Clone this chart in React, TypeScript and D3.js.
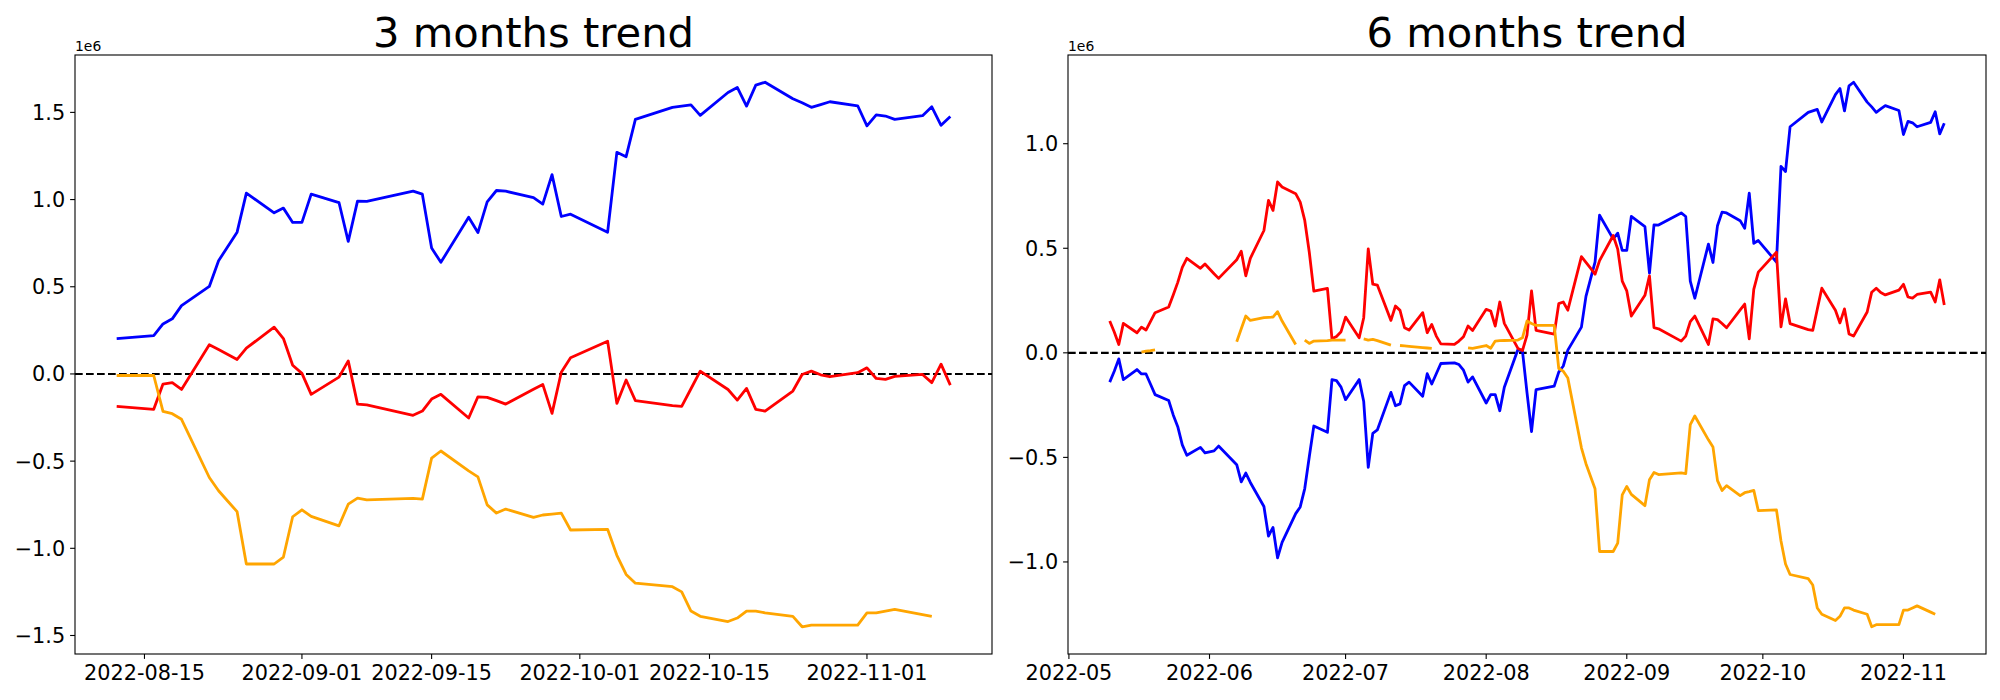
import React from 'react';
import * as d3 from 'd3';

// Korean market trading days, 2022-05-10 .. 2022-11-10
const tradingDays = [
  '2022-05-10', '2022-05-11', '2022-05-12', '2022-05-13', '2022-05-16', '2022-05-17', '2022-05-18', '2022-05-19',
  '2022-05-20', '2022-05-23', '2022-05-24', '2022-05-25', '2022-05-26', '2022-05-27', '2022-05-30', '2022-05-31',
  '2022-06-02', '2022-06-03', '2022-06-07', '2022-06-08', '2022-06-09', '2022-06-10', '2022-06-13', '2022-06-14',
  '2022-06-15', '2022-06-16', '2022-06-17', '2022-06-20', '2022-06-21', '2022-06-22', '2022-06-23', '2022-06-24',
  '2022-06-27', '2022-06-28', '2022-06-29', '2022-06-30',
  '2022-07-01', '2022-07-04', '2022-07-05', '2022-07-06', '2022-07-07', '2022-07-08', '2022-07-11', '2022-07-12',
  '2022-07-13', '2022-07-14', '2022-07-15', '2022-07-18', '2022-07-19', '2022-07-20', '2022-07-21', '2022-07-22',
  '2022-07-25', '2022-07-26', '2022-07-27', '2022-07-28', '2022-07-29',
  '2022-08-01', '2022-08-02', '2022-08-03', '2022-08-04', '2022-08-05', '2022-08-08', '2022-08-09', '2022-08-10',
  '2022-08-11', '2022-08-12', '2022-08-16', '2022-08-17', '2022-08-18', '2022-08-19', '2022-08-22', '2022-08-23',
  '2022-08-24', '2022-08-25', '2022-08-26', '2022-08-29', '2022-08-30', '2022-08-31',
  '2022-09-01', '2022-09-02', '2022-09-05', '2022-09-06', '2022-09-07', '2022-09-08', '2022-09-13', '2022-09-14',
  '2022-09-15', '2022-09-16', '2022-09-19', '2022-09-20', '2022-09-21', '2022-09-22', '2022-09-23', '2022-09-26',
  '2022-09-27', '2022-09-28', '2022-09-29', '2022-09-30',
  '2022-10-04', '2022-10-05', '2022-10-06', '2022-10-07', '2022-10-11', '2022-10-12', '2022-10-13', '2022-10-14',
  '2022-10-17', '2022-10-18', '2022-10-19', '2022-10-20', '2022-10-21', '2022-10-24', '2022-10-25', '2022-10-26',
  '2022-10-27', '2022-10-28', '2022-10-31',
  '2022-11-01', '2022-11-02', '2022-11-03', '2022-11-04', '2022-11-07', '2022-11-08', '2022-11-09', '2022-11-10',
];
const days3m = tradingDays.slice(tradingDays.indexOf('2022-08-12'));

// 3 months (values in 1e6)
const blue3m = [
  0.203, 0.220, 0.287, 0.316, 0.392, 0.502, 0.649, 0.731, 0.813, 1.037, 0.924, 0.951, 0.869,
  0.869, 1.031, 0.983, 0.760, 0.991, 0.990, 1.048, 1.031, 0.722, 0.640, 0.899, 0.811, 0.987, 1.052, 1.048, 1.011,
  0.974, 1.143, 0.903, 0.916,
  0.813, 1.271, 1.246, 1.460, 1.529, 1.536, 1.543, 1.483, 1.614, 1.643, 1.536, 1.656, 1.673, 1.578, 1.555, 1.529,
  1.545, 1.561, 1.538,
  1.423, 1.486, 1.479, 1.460, 1.481, 1.532, 1.426, 1.477,
];
const red3m = [
  -0.186, -0.203, -0.058, -0.050, -0.089, 0.167, 0.140, 0.112, 0.083, 0.148, 0.268, 0.203, 0.050,
  0.003, -0.117, -0.018, 0.075, -0.173, -0.178, -0.237, -0.213, -0.144, -0.117, -0.253, -0.131, -0.134, -0.153,
  -0.173, -0.088, -0.060, -0.226, 0.010, 0.093,
  0.188, -0.169, -0.035, -0.153, -0.182, -0.186, -0.085, 0.016, -0.089, -0.150, -0.083, -0.203, -0.213, -0.098,
  -0.003, 0.016, -0.005, -0.016, 0.007,
  0.035, -0.026, -0.031, -0.014, -0.003, -0.050, 0.056, -0.064,
];
const orange3m = [
  -0.009, -0.009, -0.215, -0.228, -0.260, -0.594, -0.670, -0.730, -0.790, -1.090, -1.090, -1.050, -0.819,
  -0.779, -0.817, -0.871, -0.747, -0.712, -0.722, -0.714, -0.718, -0.483, -0.442, -0.556, -0.590, -0.751, -0.798,
  -0.775, -0.823, -0.809, -0.804, -0.798, -0.895,
  -0.891, -1.040, -1.150, -1.200, -1.220, -1.250, -1.360, -1.390, -1.420, -1.400, -1.360, -1.360, -1.370, -1.390,
  -1.450, -1.440, -1.440, -1.440, -1.440,
  -1.370, -1.370, -1.360, -1.350, -1.380, -1.390, null, null,
];

// 6 months (values in 1e6)
const blue6m = [
  -0.140, -0.088, -0.029, -0.128, -0.080, -0.101, -0.101, -0.150, -0.200, -0.228, -0.297, -0.353, -0.440, -0.490,
  -0.452, -0.478,
  -0.469, -0.446, -0.535, -0.617, -0.575, -0.620, -0.735, -0.876, -0.835, -0.980, -0.906, -0.769, -0.737, -0.649,
  -0.497, -0.350, -0.380, -0.128, -0.133, -0.164,
  -0.224, -0.128, -0.233, -0.548, -0.385, -0.369, -0.189, -0.253, -0.244, -0.157, -0.140, -0.208, -0.100, -0.149,
  -0.100, -0.051, -0.048, -0.056, -0.083, -0.140, -0.115,
  -0.240, -0.200, -0.200, -0.277, -0.165, 0.016, 0.008, -0.190, -0.377, -0.176, -0.159, -0.092, -0.063, 0.013,
  0.123, 0.270, 0.352, 0.434, 0.658, 0.545, 0.572, 0.490,
  0.490, 0.652, 0.604, 0.381, 0.612, 0.611, 0.669, 0.652, 0.343, 0.261, 0.520, 0.432, 0.608, 0.673, 0.669, 0.632,
  0.595, 0.764, 0.524, 0.537,
  0.434, 0.892, 0.867, 1.081, 1.150, 1.157, 1.164, 1.104, 1.235, 1.264, 1.157, 1.277, 1.294, 1.199, 1.176, 1.150,
  1.166, 1.182, 1.159,
  1.044, 1.107, 1.100, 1.081, 1.102, 1.153, 1.047, 1.098,
];
const red6m = [
  0.152, 0.100, 0.040, 0.141, 0.096, 0.123, 0.109, 0.150, 0.192, 0.219, 0.277, 0.337, 0.409, 0.452, 0.404, 0.425,
  0.378, 0.356, 0.445, 0.486, 0.368, 0.452, 0.585, 0.729, 0.681, 0.817, 0.793, 0.761, 0.721, 0.633, 0.481, 0.295,
  0.308, 0.067, 0.078, 0.101,
  0.171, 0.072, 0.168, 0.497, 0.328, 0.324, 0.155, 0.224, 0.203, 0.120, 0.109, 0.192, 0.096, 0.136, 0.080, 0.043,
  0.040, 0.056, 0.077, 0.128, 0.107,
  0.208, 0.200, 0.128, 0.243, 0.141, 0.021, 0.011, 0.085, 0.296, 0.107, 0.090, 0.235, 0.243, 0.204, 0.460, 0.433,
  0.405, 0.376, 0.441, 0.561, 0.496, 0.343,
  0.296, 0.176, 0.275, 0.368, 0.120, 0.115, 0.056, 0.080, 0.149, 0.176, 0.040, 0.162, 0.159, 0.140, 0.120, 0.205,
  0.233, 0.067, 0.303, 0.386,
  0.481, 0.124, 0.258, 0.140, 0.111, 0.107, 0.208, 0.309, 0.204, 0.143, 0.210, 0.090, 0.080, 0.195, 0.290, 0.309,
  0.288, 0.277, 0.300,
  0.328, 0.267, 0.262, 0.279, 0.290, 0.243, 0.349, 0.229,
];
const orange6m = [
  null, null, null, null, null, 0.003, 0.008, 0.010, 0.014, null, null, null, null, null, null, null,
  null, null, 0.053, 0.115, 0.176, 0.155, 0.168, 0.170, 0.171, 0.197, 0.152, 0.040, null, 0.061, 0.045, 0.056,
  0.058, 0.061, 0.061, 0.061,
  0.061, null, 0.067, 0.061, 0.064, 0.058, 0.037, null, 0.035, 0.033, 0.031, 0.025, 0.023, 0.021, null, null,
  null, null, null, 0.024, 0.021,
  0.035, 0.022, 0.056, 0.058, 0.059, 0.061, 0.072, 0.152, 0.140, 0.131, 0.131, -0.075, -0.088, -0.120, -0.454,
  -0.530, -0.590, -0.650, -0.950, -0.950, -0.910, -0.679,
  -0.639, -0.677, -0.731, -0.607, -0.572, -0.582, -0.574, -0.578, -0.343, -0.302, -0.416, -0.450, -0.611, -0.658,
  -0.635, -0.683, -0.669, -0.664, -0.658, -0.755,
  -0.751, -0.900, -1.010, -1.060, -1.080, -1.110, -1.220, -1.250, -1.280, -1.260, -1.220, -1.220, -1.230, -1.250,
  -1.310, -1.300, -1.300, -1.300, -1.300,
  -1.230, -1.230, -1.220, -1.210, -1.240, -1.250, null, null,
];

const xTicks3m = ['2022-08-15', '2022-09-01', '2022-09-15', '2022-10-01', '2022-10-15', '2022-11-01'];
const xTicks6m = ['2022-05-01', '2022-06-01', '2022-07-01', '2022-08-01', '2022-09-01', '2022-10-01', '2022-11-01'];
const yTicks3m = [-1.5, -1, -0.5, 0, 0.5, 1, 1.5];
const yTicks6m = [-1, -0.5, 0, 0.5, 1];

const FONT = 'DejaVu Sans';
const parseDay = d3.utcParse('%Y-%m-%d');

type Series = { color: string; values: (number | null)[] };

function Panel({ title, days, series, xTicks, xFormat, yTicks, box }: {
  title: string; days: string[]; series: Series[]; xTicks: string[]; xFormat: string;
  yTicks: number[]; box: { left: number; right: number; top: number; bottom: number };
}) {
  const { left, right, top, bottom } = box;
  const dates = days.map(d => parseDay(d)!);
  const [d0, d1] = d3.extent(dates) as [Date, Date];
  const span = +d1 - +d0;
  const x = d3.scaleUtc()
    .domain([new Date(+d0 - 0.05 * span), new Date(+d1 + 0.05 * span)])
    .range([left, right]);

  const all = series.flatMap(s => s.values).filter((v): v is number => v != null);
  const [lo, hi] = d3.extent(all) as [number, number];
  const pad = (hi - lo) * 0.05;
  const y = d3.scaleLinear().domain([lo - pad, hi + pad]).range([bottom, top]);

  const line = d3.line<number | null>()
    .defined(v => v != null)
    .x((_, i) => x(dates[i]))
    .y(v => y(v as number));

  const fmtX = d3.utcFormat(xFormat);
  const fmtY = d3.format('.1f');
  const tickLen = 4.9;

  return (
    <g fontFamily={FONT}>
      <text x={(left + right) / 2} y={top - 8.3} textAnchor="middle" fontSize={41.7} fill="#000">{title}</text>
      <text x={left} y={top - 4.3} fontSize={13.9} fill="#000">1e6</text>

      <line x1={left} x2={right} y1={y(0)} y2={y(0)} stroke="#000" strokeWidth={2.1} strokeDasharray="7.7,3.3" />

      {series.map(s => (
        <path key={s.color} d={line(s.values) || ''} fill="none" stroke={s.color} strokeWidth={2.8}
          strokeLinejoin="round" strokeLinecap="butt" />
      ))}

      <rect x={left} y={top} width={right - left} height={bottom - top} fill="none" stroke="#000" strokeWidth={1.1} />

      {xTicks.map(t => {
        const d = parseDay(t)!;
        const px = x(d);
        return (
          <g key={t}>
            <line x1={px} x2={px} y1={bottom} y2={bottom + tickLen} stroke="#000" strokeWidth={1.1} />
            <text x={px} y={bottom + 25.5} textAnchor="middle" fontSize={20.8} fill="#000">{fmtX(d)}</text>
          </g>
        );
      })}

      {yTicks.map(t => {
        const py = y(t);
        return (
          <g key={t}>
            <line x1={left - tickLen} x2={left} y1={py} y2={py} stroke="#000" strokeWidth={1.1} />
            <text x={left - 9.8} y={py + 7.5} textAnchor="end" fontSize={20.8} fill="#000">{fmtY(t)}</text>
          </g>
        );
      })}
    </g>
  );
}

export default function App() {
  return (
    <svg width={2000} height={700} style={{ position: 'absolute', left: 0, top: 0, background: '#fff' }}>
      <Panel
        title="3 months trend"
        days={days3m}
        series={[
          { color: 'blue', values: blue3m },
          { color: 'red', values: red3m },
          { color: 'orange', values: orange3m },
        ]}
        xTicks={xTicks3m}
        xFormat="%Y-%m-%d"
        yTicks={yTicks3m}
        box={{ left: 75, right: 992, top: 55, bottom: 654 }}
      />
      <Panel
        title="6 months trend"
        days={tradingDays}
        series={[
          { color: 'blue', values: blue6m },
          { color: 'red', values: red6m },
          { color: 'orange', values: orange6m },
        ]}
        xTicks={xTicks6m}
        xFormat="%Y-%m"
        yTicks={yTicks6m}
        box={{ left: 1068, right: 1986, top: 55, bottom: 654 }}
      />
    </svg>
  );
}
